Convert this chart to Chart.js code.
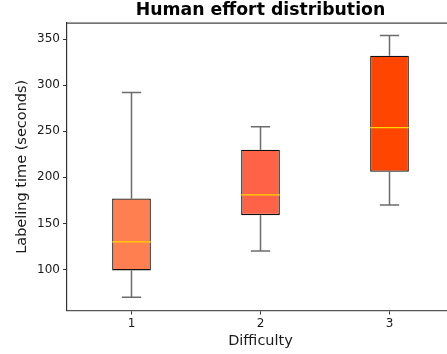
<!DOCTYPE html>
<html>
<head>
<meta charset="utf-8">
<script src="https://cdn.jsdelivr.net/npm/chart.js@4.4.1/dist/chart.umd.min.js"></script>
<style>
  html, body { margin: 0; padding: 0; background: #fff; overflow: hidden; }
  #wrap { width: 447px; height: 354px; overflow: hidden; }
  canvas { display: block; }
</style>
</head>
<body>
<div id="wrap"><canvas id="c" width="454" height="354"></canvas></div>
<script>
const categories = ['1', '2', '3'];
const whiskerLow = [70, 120, 170];
const q1 = [99, 159, 206];
const median = [130, 181, 254];
const q3 = [177, 230, 332];
const whiskerHigh = [292, 255, 354];
const yTicks = [100, 150, 200, 250, 300, 350];
const boxColors = ['#FF7F50', '#FF6347', '#FF4500'];

const FONT = "'DejaVu Sans', sans-serif";

const boxPlugin = {
  id: 'boxParts',
  beforeDatasetsDraw(chart) {
    const ctx = chart.ctx;
    const x = chart.scales.x, y = chart.scales.y;
    const meta = chart.getDatasetMeta(0);
    ctx.save();
    ctx.strokeStyle = 'rgba(70,70,70,0.8)';
    ctx.lineWidth = 1.5;
    categories.forEach((c, i) => {
      const bar = meta.data[i];
      const cx = x.getPixelForValue(i);
      const half = bar.width / 4;
      const yl = y.getPixelForValue(whiskerLow[i]);
      const yh = y.getPixelForValue(whiskerHigh[i]);
      const y1 = y.getPixelForValue(q1[i]);
      const y3 = y.getPixelForValue(q3[i]);
      ctx.beginPath();
      ctx.moveTo(cx, y1); ctx.lineTo(cx, yl);
      ctx.moveTo(cx, y3); ctx.lineTo(cx, yh);
      ctx.moveTo(cx - half, yl); ctx.lineTo(cx + half, yl);
      ctx.moveTo(cx - half, yh); ctx.lineTo(cx + half, yh);
      ctx.stroke();
    });
    ctx.restore();
  },
  afterDatasetsDraw(chart) {
    const ctx = chart.ctx;
    const x = chart.scales.x, y = chart.scales.y;
    const meta = chart.getDatasetMeta(0);
    const area = chart.chartArea;
    ctx.save();
    ctx.strokeStyle = '#FFD700';
    ctx.lineWidth = 1.3;
    categories.forEach((c, i) => {
      const bar = meta.data[i];
      const cx = x.getPixelForValue(i);
      const ym = y.getPixelForValue(median[i]);
      ctx.beginPath();
      ctx.moveTo(cx - bar.width / 2, ym); ctx.lineTo(cx + bar.width / 2, ym);
      ctx.stroke();
    });
    // top spine
    ctx.strokeStyle = '#444';
    ctx.lineWidth = 1.2;
    ctx.beginPath();
    ctx.moveTo(area.left, area.top); ctx.lineTo(area.right, area.top);
    ctx.stroke();
    ctx.restore();
  }
};

new Chart(document.getElementById('c'), {
  type: 'bar',
  data: {
    labels: categories,
    datasets: [{
      data: q1.map((v, i) => [v, q3[i]]),
      backgroundColor: boxColors,
      borderColor: '#111',
      borderWidth: 1.3,
      borderSkipped: false,
      barPercentage: 0.3,
      categoryPercentage: 1.0
    }]
  },
  options: {
    responsive: false,
    animation: false,
    layout: { padding: { left: 0, right: 0, top: 0, bottom: 0 } },
    plugins: {
      legend: { display: false },
      tooltip: { enabled: false },
      title: {
        display: true,
        text: 'Human effort distribution',
        fullSize: false,
        color: '#000',
        font: { family: FONT, size: 17.3, weight: 'bold', lineHeight: 1.2 },
        padding: { top: 0, bottom: 2.3 }
      }
    },
    scales: {
      x: {
        offset: true,
        afterFit(s) { s.height = 43.5; },
        grid: { display: true, offset: false, drawOnChartArea: false, drawTicks: true, tickLength: 4, tickColor: '#333', tickWidth: 1 },
        border: { display: true, color: '#555', width: 1.3 },
        ticks: { color: '#1a1a1a', font: { family: FONT, size: 12 }, padding: 2 },
        title: { display: true, text: 'Difficulty', color: '#1a1a1a', font: { family: FONT, size: 14.5 }, padding: { top: 0, bottom: 4.5 } }
      },
      y: {
        min: 55.5,
        max: 367.5,
        afterFit(s) { s.width = 67; },
        afterBuildTicks(s) { s.ticks = yTicks.map(v => ({ value: v })); },
        grid: { display: true, drawOnChartArea: false, drawTicks: true, tickLength: 4, tickColor: '#333', tickWidth: 1 },
        border: { display: true, color: '#333', width: 1.2 },
        ticks: { color: '#1a1a1a', font: { family: FONT, size: 12 }, padding: 3 },
        title: { display: true, text: 'Labeling time (seconds)', color: '#1a1a1a', font: { family: FONT, size: 14.5 }, padding: { top: 14, bottom: 0 } }
      }
    }
  },
  plugins: [boxPlugin]
});
</script>
</body>
</html>
